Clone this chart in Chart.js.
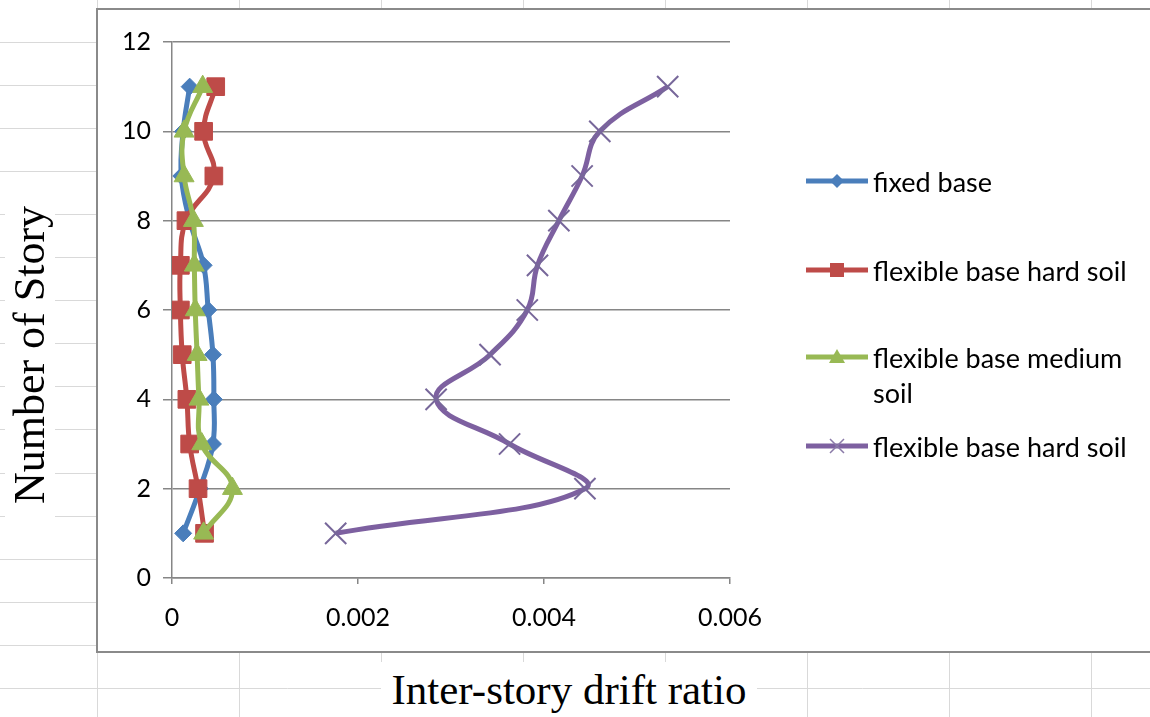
<!DOCTYPE html>
<html>
<head>
<meta charset="utf-8">
<script src="https://cdn.jsdelivr.net/npm/chart.js@4.4.1/dist/chart.umd.min.js"></script>
<style>
  body { margin: 0; background: #fff; }
  #wrap { position: relative; width: 1150px; height: 717px; overflow: hidden; }
  .ttl {
    position: absolute; background: #fff; color: #000;
    font-family: "Liberation Serif", "Times New Roman", serif; font-size: 43px;
    text-align: center; white-space: nowrap;
  }
  #ytitle { left: -140px; top: 330px; width: 340px; height: 50px; line-height: 50px; transform: rotate(-90deg); font-size: 44px; }
  #xtitle { left: 381px; top: 662px; width: 376px; height: 55px; line-height: 55px; }
  .leg { position: absolute; left: 806px; font-family: Lato, "Open Sans", sans-serif; font-size: 27px; color: #000; }
  .leg svg { position: absolute; left: 0; top: 2px; }
  .leg span { position: absolute; left: 67px; top: 0; width: 275px; line-height: 35px; }
</style>
</head>
<body>
<div id="wrap">
  <canvas id="chart" width="1150" height="717"></canvas>
  <div class="ttl" id="ytitle">Number of Story</div>
  <div class="ttl" id="xtitle">Inter-story drift ratio</div>
  <div id="legend"></div>
</div>
<script>
// stories 1..11, drift ratio per story
const stories = [1, 2, 3, 4, 5, 6, 7, 8, 9, 10, 11];
const fixedBase = [0.00012, 0.00030, 0.00044, 0.00045, 0.00044, 0.00039, 0.00034, 0.00019, 0.00010, 0.00012, 0.00019];
const flexHard = [0.00035, 0.00028, 0.00019, 0.00016, 0.00011, 0.00009, 0.00009, 0.00015, 0.00045, 0.00034, 0.00047];
const flexMedium = [0.00034, 0.00065, 0.00032, 0.00029, 0.00027, 0.00025, 0.00024, 0.00023, 0.00013, 0.00013, 0.00033];
const flexHard2 = [0.00176, 0.00444, 0.00363, 0.00284, 0.00342, 0.00382, 0.00393, 0.00416, 0.00441, 0.00460, 0.00533];

const seriesNames = ['fixed base', 'flexible base hard soil', 'flexible base medium soil', 'flexible base hard soil'];
const xTicks = [0, 0.002, 0.004, 0.006];
const yTicks = [0, 2, 4, 6, 8, 10, 12];

const axisGray = '#868686';
const tickFont = { family: 'Lato, "Open Sans", sans-serif', size: 25 };

function toPoints(values) {
    return values.map((v, i) => ({ x: v, y: stories[i] }));
}

// spreadsheet grid + chart box behind everything
const sheetPlugin = {
    id: 'sheet',
    beforeDraw(chart) {
        const c = chart.ctx;
        c.save();
        c.fillStyle = '#fff';
        c.fillRect(0, 0, chart.width, chart.height);
        c.strokeStyle = '#d9d9d9';
        c.lineWidth = 1;
        for (let x = 97.5; x < chart.width; x += 142) {
            c.beginPath(); c.moveTo(x, 0); c.lineTo(x, chart.height); c.stroke();
        }
        for (let y = 41.5; y < chart.height; y += 43.1) {
            c.beginPath(); c.moveTo(0, Math.round(y) + 0.5); c.lineTo(chart.width, Math.round(y) + 0.5); c.stroke();
        }
        c.fillStyle = '#fff';
        c.fillRect(97, 9, chart.width, 643);
        c.strokeStyle = '#8a8a8a';
        c.lineWidth = 2;
        c.strokeRect(97, 9, chart.width + 10, 643);
        c.restore();
    }
};

const ctx = document.getElementById('chart').getContext('2d');
const chart = new Chart(ctx, {
    type: 'scatter',
    data: {
        datasets: [{
            label: seriesNames[0],
            data: toPoints(fixedBase),
            borderColor: '#4a7ebb',
            backgroundColor: '#4a7ebb',
            pointStyle: 'rectRot',
            pointRadius: 8.5,
            order: 4
        }, {
            label: seriesNames[1],
            data: toPoints(flexHard),
            borderColor: '#be4b48',
            backgroundColor: '#be4b48',
            pointStyle: 'rect',
            pointRadius: 12.5,
            order: 3
        }, {
            label: seriesNames[2],
            data: toPoints(flexMedium),
            borderColor: '#98b954',
            backgroundColor: '#98b954',
            pointStyle: 'triangle',
            pointRadius: 11.5,
            order: 2
        }, {
            label: seriesNames[3],
            data: toPoints(flexHard2),
            borderColor: '#7d60a0',
            backgroundColor: '#7d60a0',
            pointStyle: 'crossRot',
            pointRadius: 15,
            pointBorderColor: '#77679a',
            pointBorderWidth: 2,
            order: 1
        }]
    },
    options: {
        responsive: false,
        animation: false,
        devicePixelRatio: 1,
        showLine: true,
        layout: { padding: { left: 0, top: 42, right: 420, bottom: 0 } },
        elements: {
            line: { borderWidth: 5, tension: 0.42 },
            point: { borderWidth: 1 }
        },
        plugins: {
            legend: { display: false },
            tooltip: { enabled: false }
        },
        scales: {
            x: {
                type: 'linear',
                min: 0,
                max: 0.006,
                afterBuildTicks: s => { s.ticks = xTicks.map(v => ({ value: v })); },
                afterFit: s => { s.height = 139; },
                ticks: {
                    color: '#000',
                    font: tickFont,
                    padding: 19,
                    callback: v => (v === 0 ? '0' : v.toFixed(3))
                },
                grid: { drawOnChartArea: false, drawTicks: true, tickLength: 6, color: axisGray, lineWidth: 1.5 },
                border: { display: true, color: axisGray, width: 1.5 }
            },
            y: {
                type: 'linear',
                min: 0,
                max: 12,
                afterBuildTicks: s => { s.ticks = yTicks.map(v => ({ value: v })); },
                afterFit: s => { s.width = 172; },
                ticks: { color: '#000', font: tickFont, padding: 12 },
                grid: { color: axisGray, lineWidth: 1.5, tickLength: 9 },
                border: { display: true, color: axisGray, width: 1.5 }
            }
        }
    },
    plugins: [sheetPlugin]
});

// legend, Excel style: line with marker, text at right
const legendCenters = [181, 270, 357, 446];
const markerSvg = [
    '<polygon points="31,8 38,15 31,22 24,15" fill="#4a7ebb"/>',
    '<rect x="24" y="8" width="14" height="14" fill="#be4b48"/>',
    '<polygon points="31,7 39,21 23,21" fill="#98b954"/>',
    '<path d="M24,8 L38,22 M38,8 L24,22" stroke="#8a7aa8" stroke-width="1.5"/>'
];
const lineColors = ['#4a7ebb', '#be4b48', '#98b954', '#7d60a0'];
const legendEl = document.getElementById('legend');
seriesNames.forEach((name, i) => {
    const item = document.createElement('div');
    item.className = 'leg';
    item.style.top = (legendCenters[i] - 17) + 'px';
    item.innerHTML =
        '<svg width="62" height="30"><line x1="0" y1="15" x2="62" y2="15" stroke="' + lineColors[i] +
        '" stroke-width="5"/>' + markerSvg[i] + '</svg><span>' + name + '</span>';
    legendEl.appendChild(item);
});
</script>
</body>
</html>
